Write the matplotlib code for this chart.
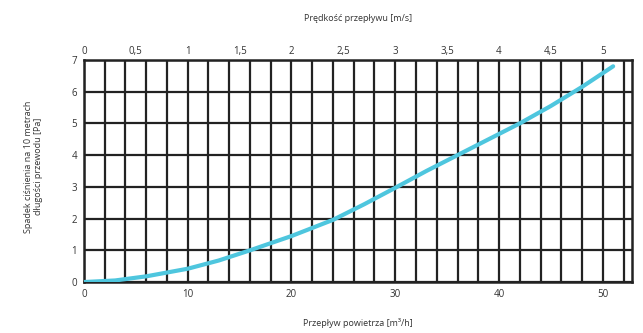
import matplotlib
matplotlib.use("Agg")
import matplotlib.pyplot as plt
import numpy as np

# data
flow = [0, 3, 6, 10, 13, 16, 20, 24, 27, 30, 33, 36, 39, 42, 45, 48, 51]
pressure = [0, 0.05, 0.18, 0.42, 0.68, 1.0, 1.45, 1.96, 2.45, 2.97, 3.5, 4.0, 4.5, 5.0, 5.55, 6.15, 6.8]
bottom_ticks = [0, 10, 20, 30, 40, 50]
top_ticks = [0, 0.5, 1, 1.5, 2, 2.5, 3, 3.5, 4, 4.5, 5]
top_labels = ["0", "0,5", "1", "1,5", "2", "2,5", "3", "3,5", "4", "4,5", "5"]
y_ticks = [0, 1, 2, 3, 4, 5, 6, 7]

plt.rcParams['font.family'] = ['Open Sans', 'DejaVu Sans']

fig = plt.figure(figsize=(6.43, 3.33), dpi=100)
ax = fig.add_axes([0.1306, 0.153, 0.852, 0.667])

xmax = 52.8
ax.set_xlim(0, xmax)
ax.set_ylim(0, 7)

# grid
for gx in np.arange(0, xmax, 2):
    ax.axvline(gx, color="#222222", lw=1.6, zorder=1)
for gy in y_ticks:
    ax.axhline(gy, color="#222222", lw=1.6, zorder=1)

ax.plot(flow, pressure, color="#4ec6de", lw=3, zorder=3, solid_capstyle="round")

for s in ax.spines.values():
    s.set_color("#222222")
    s.set_linewidth(1.8)

ax.set_xticks(bottom_ticks)
ax.set_yticks(y_ticks)
ax.tick_params(length=0, labelsize=7, pad=5, colors="#333333")

ax2 = ax.twiny()
ax2.set_xlim(0, xmax / 10)
ax2.set_xticks(top_ticks)
ax2.set_xticklabels(top_labels)
ax2.tick_params(length=0, labelsize=7, pad=2, colors="#333333")
for s in ax2.spines.values():
    s.set_visible(False)

fig.text(0.557, 0.945, "Prędkość przepływu [m/s]", ha="center", va="center", fontsize=6.5, color="#333333")
fig.text(0.557, 0.03, "Przepływ powietrza [m³/h]", ha="center", va="center", fontsize=6.5, color="#333333")
fig.text(0.052, 0.5, "Spadek ciśnienia na 10 metrach\ndługości przewodu [Pa]", ha="center", va="center",
         rotation=90, fontsize=6.5, color="#333333", linespacing=1.1)

fig.savefig("out.png", dpi=100)
